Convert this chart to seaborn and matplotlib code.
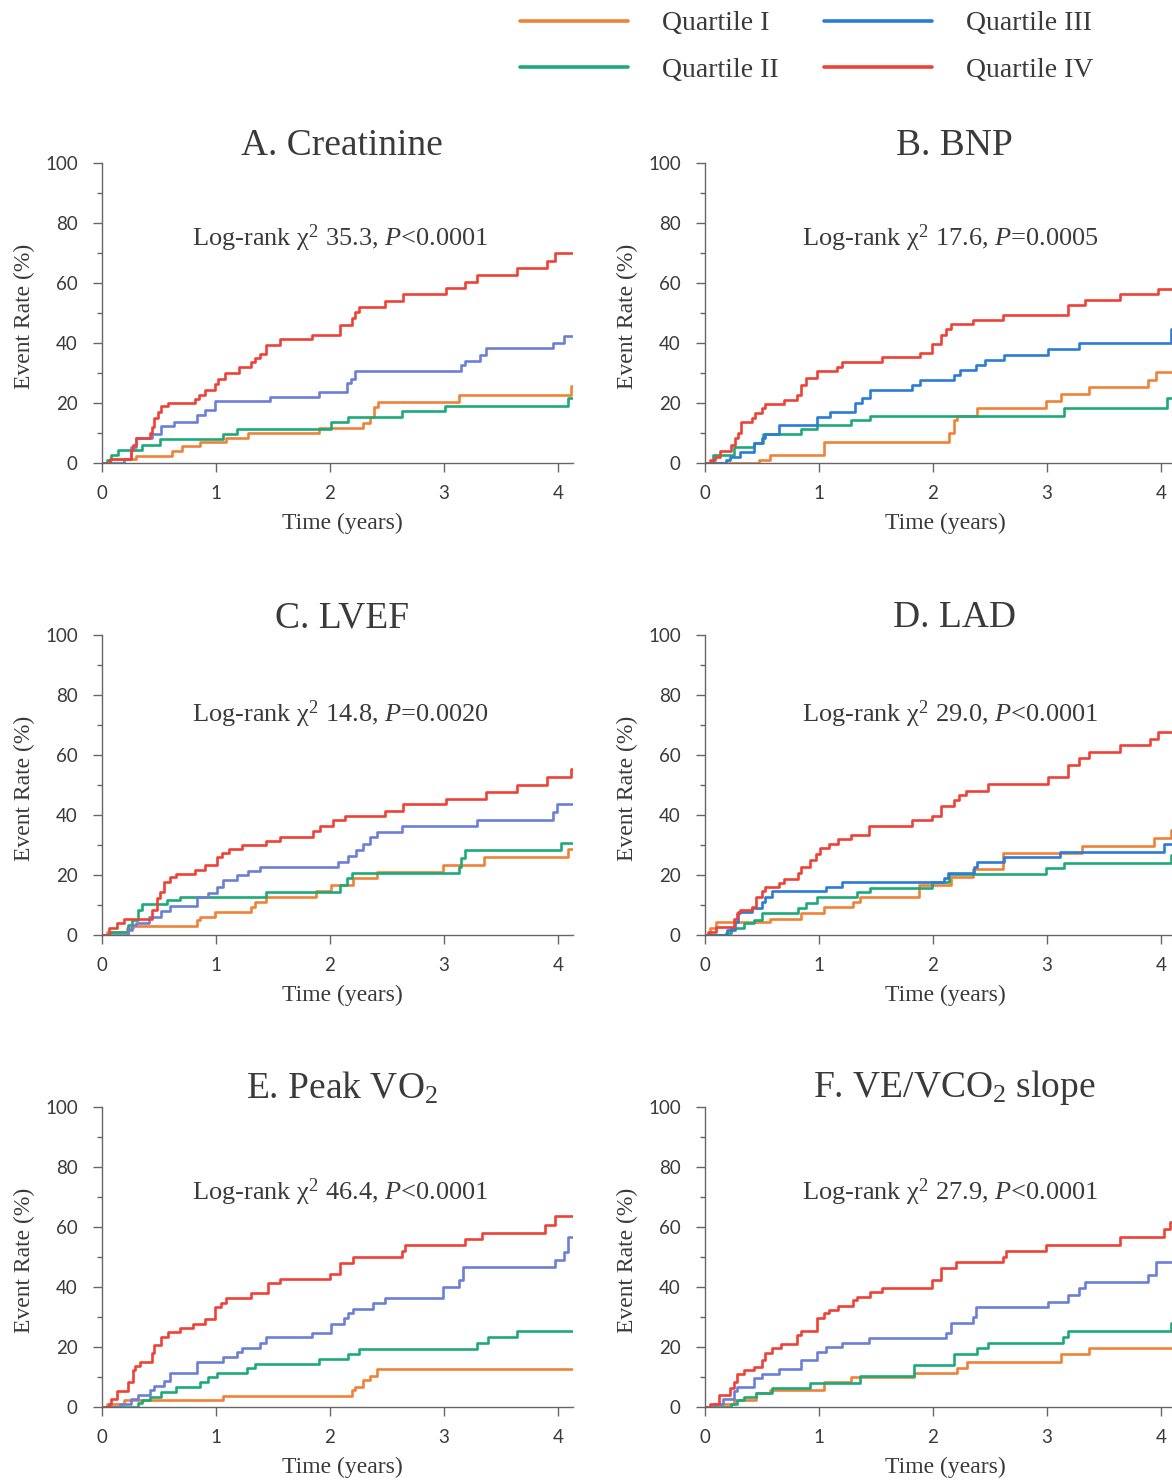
import numpy as np
import pandas as pd
import matplotlib
matplotlib.use("Agg")
import matplotlib.pyplot as plt
from matplotlib.ticker import MultipleLocator
from matplotlib.lines import Line2D
import seaborn as sns

# ---------------- data ----------------
QUARTILES = ["Quartile I", "Quartile II", "Quartile III", "Quartile IV"]
PANEL_TITLES = ["A. Creatinine", "B. BNP", "C. LVEF", "D. LAD",
                "E. Peak VO$_2$", "F. VE/VCO$_2$ slope"]
LOGRANK_CHI2 = ["35.3", "17.6", "14.8", "29.0", "46.4", "27.9"]
LOGRANK_P = ["<0.0001", "=0.0005", "=0.0020", "<0.0001", "<0.0001", "<0.0001"]
X_TICKS = [0, 1, 2, 3, 4]
Y_TICKS = [0, 20, 40, 60, 80, 100]
END_TIME = 4.12

# Panel A: Creatinine
A_Q1_t = [0, 0.07, 0.30, 0.61, 0.70, 0.86, 1.09, 1.28, 1.90, 2.29, 2.35, 2.39, 2.42, 3.13, 4.11]
A_Q1_v = [0, 1.2, 2.3, 4.1, 5.7, 7.1, 8.2, 10.1, 11.6, 13.4, 15.4, 18.8, 20.4, 22.7, 25.7]
A_Q2_t = [0, 0.04, 0.08, 0.14, 0.35, 0.51, 1.06, 1.18, 2.01, 2.16, 2.63, 3.01, 4.09]
A_Q2_v = [0, 1, 2.7, 4.3, 6, 8, 9.7, 11.2, 13.8, 15.4, 17.3, 19, 21.6]
A_Q3_t = [0, 0.19, 0.25, 0.30, 0.44, 0.52, 0.63, 0.83, 0.90, 0.99, 1.47, 1.90, 2.15, 2.18, 2.22,
          3.15, 3.18, 3.32, 3.37, 3.96, 4.05]
A_Q3_v = [0, 1.2, 5.4, 8.2, 9.7, 12.3, 13.8, 16, 17.7, 20.8, 22.1, 23.8, 26.6, 27.9, 30.8,
          32.7, 34, 36, 38.2, 40.1, 42.3]
A_Q4_t = [0, 0.07, 0.25, 0.27, 0.30, 0.42, 0.44, 0.46, 0.49, 0.52, 0.58, 0.82, 0.85, 0.90, 0.99,
          1.02, 1.08, 1.20, 1.31, 1.34, 1.39, 1.44, 1.56, 1.84, 2.09, 2.19, 2.22, 2.25, 2.48, 2.64,
          3.02, 3.18, 3.29, 3.64, 3.90, 3.97]
A_Q4_v = [0, 1.2, 4.3, 6, 8.2, 10, 12, 15, 17, 19, 20, 21.5, 22.7, 24.5, 26.5,
          28, 30, 32, 33.8, 35, 36.3, 39.3, 41.2, 42.7, 46, 48.2, 50.4, 51.9, 54.1, 56.2,
          58.2, 60.4, 62.7, 64.9, 67.4, 69.9]

# Panel B: BNP
B_Q1_t = [0, 0.47, 0.57, 1.04, 2.14, 2.18, 2.21, 2.39, 2.99, 3.12, 3.37, 3.89, 3.96]
B_Q1_v = [0, 1, 2.7, 7.1, 9.9, 14.3, 15.8, 18.4, 20.7, 22.9, 25.2, 27.7, 30.2]
B_Q2_t = [0, 0.07, 0.25, 0.43, 0.51, 0.84, 0.98, 1.28, 1.45, 3.15, 4.05]
B_Q2_v = [0, 2.7, 5.4, 6.8, 9.6, 11.2, 12.7, 14.3, 15.8, 18.4, 21.6]
B_Q3_t = [0, 0.18, 0.22, 0.31, 0.43, 0.50, 0.53, 0.65, 0.98, 1.10, 1.32, 1.38, 1.45, 1.82, 1.89,
          2.18, 2.24, 2.38, 2.46, 2.62, 3.01, 3.28, 4.09]
B_Q3_v = [0, 1, 2.1, 3.8, 6.6, 8.2, 9.7, 12.6, 15.4, 16.9, 19.9, 21.6, 24.3, 26, 27.7,
          29.3, 31, 32.7, 34.3, 36, 38, 39.9, 44.6]
B_Q4_t = [0, 0.04, 0.09, 0.13, 0.23, 0.26, 0.29, 0.32, 0.41, 0.44, 0.50, 0.53, 0.69, 0.81, 0.84,
          0.89, 0.98, 1.16, 1.20, 1.55, 1.89, 1.99, 2.07, 2.11, 2.16, 2.35, 2.61, 3.18, 3.33, 3.64,
          3.97]
B_Q4_v = [0, 1, 2.1, 4, 6, 8.2, 9.9, 13.8, 15.1, 16.6, 18.2, 19.6, 21, 22.7, 26,
          28.2, 30.8, 32.1, 33.8, 35.2, 36.8, 39.7, 42.7, 44.6, 46.3, 47.7, 49.3, 52.7, 54.3, 56.2,
          57.9]

# Panel C: LVEF
C_Q1_t = [0, 0.04, 0.22, 0.27, 0.83, 0.86, 0.99, 1.31, 1.34, 1.44, 1.88, 2.01, 2.20, 2.41, 2.99,
          3.35, 4.09]
C_Q1_v = [0, 1.1, 2.2, 3, 5, 6.1, 7.8, 9.4, 11.1, 12.8, 14.7, 16.7, 18.9, 20.9, 23.3, 25.9, 28.6]
C_Q2_t = [0, 0.07, 0.23, 0.26, 0.32, 0.35, 0.57, 0.68, 1.44, 2.09, 2.15, 2.19, 3.13, 3.15, 3.18,
          4.03]
C_Q2_v = [0, 1.1, 3.3, 5, 8.3, 10.2, 11.7, 12.8, 14.4, 16.7, 18.9, 20.6, 22.8, 25.6, 28.3, 30.6]
C_Q3_t = [0, 0.23, 0.26, 0.30, 0.41, 0.52, 0.60, 0.83, 0.93, 1.01, 1.06, 1.18, 1.28, 1.39, 2.07,
          2.16, 2.23, 2.29, 2.35, 2.41, 2.63, 3.29, 3.96, 3.99]
C_Q3_v = [0, 1.7, 3.3, 4.1, 6.1, 8.1, 9.7, 12.6, 13.9, 16.1, 18.3, 20, 21.4, 22.8, 24.4,
          26.3, 28.3, 30.3, 32.8, 34.4, 36.3, 38.3, 41.1, 43.6]
C_Q4_t = [0, 0.06, 0.13, 0.19, 0.44, 0.48, 0.51, 0.54, 0.60, 0.65, 0.82, 0.90, 1.01, 1.05, 1.11,
          1.23, 1.44, 1.56, 1.85, 1.91, 2.03, 2.13, 2.48, 2.64, 3.02, 3.37, 3.64, 3.90, 4.11]
C_Q4_v = [0, 2.2, 3.9, 5.3, 8.3, 12.2, 14.4, 17.8, 19.2, 20.3, 21.7, 23.3, 25.9, 27.2, 28.7,
          30, 31.4, 32.8, 34.8, 36.3, 38.3, 39.7, 41.4, 43.7, 45.2, 47.6, 50, 52.8, 55.2]

# Panel D: LAD
D_Q1_t = [0, 0.04, 0.10, 0.57, 0.84, 1.04, 1.30, 1.36, 1.88, 2.16, 2.35, 2.61, 3.31, 3.94, 4.09]
D_Q1_v = [0, 2.2, 4.4, 5.3, 7.2, 9.2, 11.1, 12.6, 16.7, 19.4, 22, 27.2, 29.7, 32.2, 35]
D_Q2_t = [0, 0.18, 0.23, 0.34, 0.43, 0.50, 0.82, 0.89, 0.98, 1.33, 1.45, 1.99, 2.14, 2.99, 3.15,
          4.09]
D_Q2_v = [0, 0.8, 2.2, 3.9, 5, 7.4, 8.9, 10.6, 12.8, 14.2, 15.8, 17.8, 20.3, 22.2, 24.1, 26.7]
D_Q3_t = [0, 0.19, 0.26, 0.29, 0.41, 0.50, 0.53, 0.59, 1.06, 1.20, 2.10, 2.13, 2.36, 2.39, 2.62,
          3.11, 4.03]
D_Q3_v = [0, 1.7, 4.4, 7.8, 8.9, 11.1, 12.6, 14.8, 16.1, 17.6, 19.1, 20.6, 22.8, 24.4, 26.1,
          27.6, 30.2]
D_Q4_t = [0, 0.03, 0.10, 0.25, 0.28, 0.31, 0.41, 0.45, 0.50, 0.53, 0.65, 0.69, 0.82, 0.84, 0.92,
          0.97, 1.01, 1.09, 1.17, 1.28, 1.44, 1.82, 1.99, 2.07, 2.18, 2.23, 2.29, 2.48, 3.01, 3.18,
          3.28, 3.37, 3.64, 3.90, 3.97]
D_Q4_v = [0, 1.1, 2.8, 5.2, 7.2, 8.3, 9.4, 12.8, 14.8, 15.9, 17.2, 18.7, 20.6, 22.8, 25,
          27, 28.9, 30.3, 31.9, 33.3, 36.3, 38.3, 39.7, 43, 45, 46.7, 48.1, 50.3, 52.6, 56.7,
          58.9, 61.1, 63.3, 65.3, 67.6]

# Panel E: Peak VO2
E_Q1_t = [0, 0.04, 0.19, 1.06, 2.19, 2.22, 2.29, 2.35, 2.41]
E_Q1_v = [0, 1, 2.3, 3.8, 5.7, 6.8, 9, 10.3, 12.7]
E_Q2_t = [0, 0.32, 0.35, 0.42, 0.52, 0.65, 0.86, 0.93, 1.01, 1.27, 1.34, 1.90, 2.16, 2.25, 3.29,
          3.39, 3.64]
E_Q2_v = [0, 1.2, 2.3, 3.4, 5.1, 6.8, 8.4, 10.1, 11.4, 12.9, 14.2, 15.9, 17.7, 19.2, 21.2,
          23.4, 25.4]
E_Q3_t = [0, 0.16, 0.25, 0.32, 0.42, 0.46, 0.54, 0.60, 0.83, 1.06, 1.18, 1.23, 1.39, 1.44, 1.84,
          2.01, 2.12, 2.16, 2.20, 2.38, 2.48, 2.99, 3.13, 3.17, 3.97, 4.05, 4.09]
E_Q3_v = [0, 1, 2.6, 4, 5.7, 7.1, 8.7, 11.2, 15.1, 16.8, 18.4, 19.8, 21.2, 23.2, 24.6,
          27.6, 29.6, 31.2, 32.6, 34.6, 36.2, 40.1, 42.3, 46.6, 49, 51.8, 56.8]
E_Q4_t = [0, 0.06, 0.08, 0.13, 0.23, 0.27, 0.29, 0.33, 0.44, 0.46, 0.52, 0.58, 0.68, 0.80, 0.90,
          0.99, 1.04, 1.09, 1.31, 1.46, 1.56, 2.00, 2.09, 2.20, 2.63, 2.66, 3.18, 3.33, 3.89, 3.97]
E_Q4_v = [0, 1, 2.6, 5.4, 8.4, 12.3, 13.8, 15.1, 17.9, 20.7, 23.4, 25.1, 26.2, 27.7, 29.2,
          33.2, 34.8, 36.2, 37.9, 41.2, 42.6, 44.3, 48.1, 50.1, 52.1, 54, 55.9, 58.1, 60.7, 63.8]

# Panel F: VE/VCO2 slope
F_Q1_t = [0, 0.07, 0.25, 0.45, 0.57, 1.04, 1.28, 1.83, 2.21, 2.30, 3.12, 3.37]
F_Q1_v = [0, 1, 2.3, 4.6, 5.7, 8.4, 10.1, 11.2, 12.9, 15.1, 17.7, 19.6]
F_Q2_t = [0, 0.23, 0.28, 0.34, 0.45, 0.59, 0.92, 1.36, 1.83, 2.18, 2.39, 2.48, 3.14, 3.18, 4.09]
F_Q2_v = [0, 1, 2.3, 3.4, 4.8, 6.2, 8.1, 10.4, 14, 17.7, 19.6, 21.2, 23.2, 25.3, 27.9]
F_Q3_t = [0, 0.09, 0.16, 0.25, 0.28, 0.43, 0.50, 0.65, 0.84, 0.98, 1.06, 1.20, 1.44, 2.11, 2.16,
          2.35, 2.38, 3.01, 3.18, 3.28, 3.33, 3.89, 3.96]
F_Q3_v = [0, 1, 2.6, 5.4, 6.8, 9.6, 11, 12.6, 15.7, 18.4, 20.1, 21.4, 22.9, 24.6, 28.1,
          29.9, 33.2, 35.1, 37.3, 39.6, 41.8, 44, 48.4]
F_Q4_t = [0, 0.04, 0.12, 0.22, 0.25, 0.28, 0.34, 0.43, 0.50, 0.53, 0.59, 0.67, 0.81, 0.84, 0.98,
          1.04, 1.09, 1.17, 1.30, 1.33, 1.45, 1.55, 1.99, 2.07, 2.20, 2.61, 2.64, 2.99, 3.64, 4.03,
          4.08]
F_Q4_v = [0, 1, 4, 6.2, 8.4, 11, 12.3, 13.4, 15.7, 18.1, 19.6, 21, 24, 25.4, 29.6,
          31.2, 32.3, 33.8, 35.7, 36.8, 38.2, 39.6, 42.3, 46.2, 48.4, 50.1, 52.1, 54, 56.6, 59.2,
          61.8]

CURVES = {
    "A": [(A_Q1_t, A_Q1_v), (A_Q2_t, A_Q2_v), (A_Q3_t, A_Q3_v), (A_Q4_t, A_Q4_v)],
    "B": [(B_Q1_t, B_Q1_v), (B_Q2_t, B_Q2_v), (B_Q3_t, B_Q3_v), (B_Q4_t, B_Q4_v)],
    "C": [(C_Q1_t, C_Q1_v), (C_Q2_t, C_Q2_v), (C_Q3_t, C_Q3_v), (C_Q4_t, C_Q4_v)],
    "D": [(D_Q1_t, D_Q1_v), (D_Q2_t, D_Q2_v), (D_Q3_t, D_Q3_v), (D_Q4_t, D_Q4_v)],
    "E": [(E_Q1_t, E_Q1_v), (E_Q2_t, E_Q2_v), (E_Q3_t, E_Q3_v), (E_Q4_t, E_Q4_v)],
    "F": [(F_Q1_t, F_Q1_v), (F_Q2_t, F_Q2_v), (F_Q3_t, F_Q3_v), (F_Q4_t, F_Q4_v)],
}

rows = []
for panel, curves in CURVES.items():
    for q, (ts, vs) in zip(QUARTILES, curves):
        for t, v in zip(list(ts) + [END_TIME], list(vs) + [vs[-1]]):
            rows.append({"panel": panel, "quartile": q, "time": t, "rate": v})
df = pd.DataFrame(rows)

# ---------------- styling ----------------
sns.set_style("ticks")
plt.rcParams["font.family"] = ["Liberation Serif", "DejaVu Serif"]
plt.rcParams["mathtext.fontset"] = "custom"
plt.rcParams["mathtext.rm"] = "Liberation Serif"
plt.rcParams["mathtext.it"] = "Liberation Serif:italic"
plt.rcParams["mathtext.bf"] = "Liberation Serif:bold"

ORANGE = "#EF8236"
GREEN = "#1DAA78"
BLUE_SOFT = "#6B7FD7"
BLUE = "#2C7BD6"
RED = "#EE4236"
TEXT = "#3a3a3a"
AXC = "#666666"

fig = plt.figure(figsize=(11.72, 14.82), dpi=100)
W, H = 1172.0, 1482.0
lefts = [102, 705]
bottoms_px = [463, 935, 1407]
xmax = 4.13
ax_w = xmax * 114 / W
ax_h = 300 / H
logrank_y = [75, 75, 73.5, 73.5, 71.5, 71.5]
logrank_x = [2.09, 2.15]
title_x = [0.51, 0.53]

panels = list(CURVES.keys())
for i, panel in enumerate(panels):
    r, c = divmod(i, 2)
    ax = fig.add_axes([lefts[c] / W, 1 - bottoms_px[r] / H, ax_w, ax_h])
    blue = BLUE if panel in ("B", "D") else BLUE_SOFT
    pal = dict(zip(QUARTILES, [ORANGE, GREEN, blue, RED]))
    sns.lineplot(data=df[df.panel == panel], x="time", y="rate", hue="quartile",
                 hue_order=QUARTILES, palette=pal, estimator=None, sort=False,
                 drawstyle="steps-post", linewidth=1.9, legend=False, ax=ax)
    ax.set_xlim(0, xmax)
    ax.set_ylim(0, 100)
    ax.set_xticks(X_TICKS)
    ax.set_yticks(Y_TICKS)
    ax.yaxis.set_minor_locator(MultipleLocator(10))
    for s in ("top", "right"):
        ax.spines[s].set_visible(False)
    for s in ("left", "bottom"):
        ax.spines[s].set_color(AXC)
        ax.spines[s].set_linewidth(1.0)
    ax.tick_params(axis="y", which="major", direction="out", length=6.5, width=1,
                   color=AXC, labelsize=13.5, labelcolor=TEXT, pad=11,
                   labelfontfamily="Lato")
    ax.tick_params(axis="y", which="minor", direction="out", length=3.5, width=1, color=AXC)
    ax.tick_params(axis="x", which="major", direction="out", length=6.5, width=1,
                   color=AXC, labelsize=13.5, labelcolor=TEXT, pad=9,
                   labelfontfamily="Lato")
    ax.set_xlabel("Time (years)", fontsize=17, color=TEXT)
    ax.set_ylabel("Event Rate (%)", fontsize=17, color=TEXT)
    ax.xaxis.label.set_va("center")
    ax.yaxis.label.set_va("center")
    ax.xaxis.set_label_coords(0.51, -0.203)
    ax.yaxis.set_label_coords(-0.165, 0.49)
    ax.set_title(PANEL_TITLES[i], fontsize=27, color=TEXT, pad=4, x=title_x[c])
    ax.text(logrank_x[c], logrank_y[i],
            "Log-rank χ$^2$ " + LOGRANK_CHI2[i] + ", $P$" + LOGRANK_P[i],
            fontsize=19, color=TEXT, ha="center", va="center")
    ax.set_facecolor("white")

handles = [Line2D([], [], color=col, lw=2.6) for col in [ORANGE, GREEN, BLUE, RED]]
fig.legend(handles, QUARTILES, ncol=2, loc="upper left",
           bbox_to_anchor=(520 / W, 1 - 11 / H), frameon=False,
           prop={"family": "Liberation Serif", "size": 20},
           handlelength=3.9, handletextpad=1.2, columnspacing=1.65,
           labelspacing=0.75, borderpad=0, borderaxespad=0, labelcolor=TEXT)

fig.savefig("out.png", dpi=100, facecolor="white")
